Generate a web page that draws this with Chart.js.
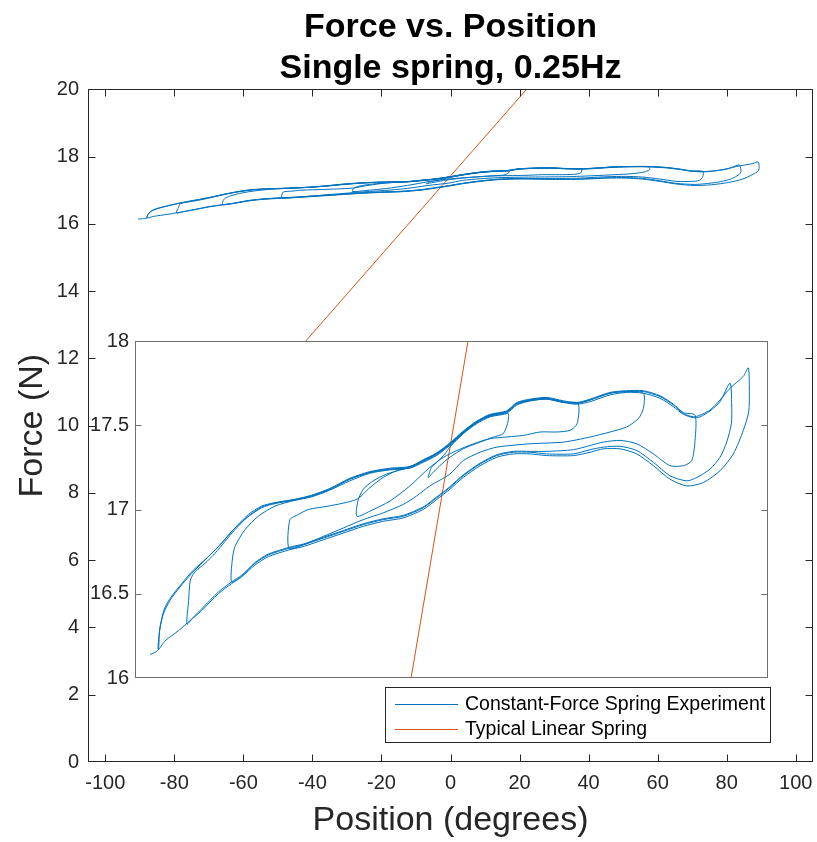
<!DOCTYPE html>
<html lang="en">

<head>
    <meta charset="UTF-8">
    <meta name="viewport" content="width=device-width, initial-scale=1.0">
    <script src="https://cdn.jsdelivr.net/npm/chart.js@4.4.1/dist/chart.umd.min.js"></script>
    <title>Force vs. Position</title>
    <style>
        body { margin: 0; background: #fff; }
        #wrap { position: relative; width: 817px; height: 842px; }
        #mainChart { position: absolute; left: 0; top: 0; }
        #insetChart { position: absolute; left: 80px; top: 325px; }
    </style>
</head>

<body>
    <div id="wrap">
        <canvas id="mainChart" width="817" height="842"></canvas>
        <canvas id="insetChart" width="700" height="370"></canvas>
    </div>
</body>

<script type='text/javascript'>

    // tick labels
    const xTickValues = [-100, -80, -60, -40, -20, 0, 20, 40, 60, 80, 100];
    const yTickValues = [0, 2, 4, 6, 8, 10, 12, 14, 16, 18, 20];
    const insetTickValues = [16, 16.5, 17, 17.5, 18];

    // measured force (N) vs position (deg), one array per half cycle
    const upSweep1 = [[-90.5, 16.14], [-89.2, 16.15], [-88.0, 16.17], [-87.6, 16.29], [-86.2, 16.41], [-84.2, 16.48], [-81.0, 16.56], [-77.5, 16.64], [-73.0, 16.72], [-69.0, 16.80], [-65.0, 16.89], [-61.0, 16.97], [-57.0, 17.02], [-53.0, 17.04], [-47.0, 17.06], [-42.0, 17.08], [-36.5, 17.12], [-30.5, 17.18], [-24.5, 17.22], [-18.5, 17.24], [-12.5, 17.25], [-8.5, 17.29], [-4.5, 17.33], [-0.5, 17.39], [3.5, 17.46], [7.6, 17.52], [11.6, 17.56], [16.5, 17.58], [19.6, 17.63], [23.6, 17.65], [28.6, 17.66], [33.6, 17.64], [37.6, 17.63], [41.6, 17.65], [47.6, 17.69], [52.6, 17.70], [57.6, 17.70], [62.6, 17.67], [66.6, 17.62], [69.6, 17.57], [72.6, 17.55], [74.6, 17.56], [77.6, 17.59], [80.6, 17.65], [83.6, 17.72], [87.6, 17.79], [89.1, 17.84]];
    const downSweep1 = [[89.1, 17.84], [89.4, 17.70], [89.2, 17.58], [87.6, 17.47], [84.6, 17.33], [80.6, 17.23], [75.6, 17.16], [70.6, 17.14], [65.6, 17.18], [60.6, 17.26], [55.6, 17.33], [50.6, 17.36], [45.6, 17.36], [41.6, 17.34], [36.6, 17.32], [28.6, 17.32], [23.6, 17.33], [18.6, 17.33], [13.6, 17.31], [8.6, 17.26], [3.5, 17.19], [-0.5, 17.12], [-4.4, 17.06], [-8.5, 17.00], [-14.5, 16.95], [-20.5, 16.93], [-26.5, 16.90], [-32.5, 16.86], [-38.5, 16.82], [-44.5, 16.78], [-48.8, 16.76], [-55.0, 16.72], [-59.0, 16.67], [-63.0, 16.60], [-66.0, 16.56], [-70.0, 16.50], [-75.0, 16.40], [-78.5, 16.34], [-82.0, 16.28], [-86.0, 16.22], [-88.0, 16.17]];
    const upSweep2 = [[-88.0, 16.17], [-87.6, 16.28], [-86.5, 16.38], [-84.5, 16.46], [-81.5, 16.54], [-78.0, 16.62], [-73.5, 16.71], [-69.5, 16.79], [-65.5, 16.88], [-61.5, 16.95], [-57.0, 17.01], [-53.0, 17.035], [-47.0, 17.055], [-42.0, 17.075], [-36.5, 17.115], [-30.5, 17.17], [-24.5, 17.215], [-18.5, 17.235], [-12.5, 17.245], [-8.5, 17.28], [-4.5, 17.32], [-0.5, 17.38], [3.5, 17.45], [7.6, 17.51], [11.6, 17.55], [16.5, 17.57], [19.6, 17.62], [23.6, 17.645], [28.6, 17.655], [33.6, 17.635], [37.6, 17.625], [41.6, 17.64], [47.6, 17.68], [52.6, 17.695], [57.6, 17.69], [62.6, 17.66], [66.6, 17.61], [69.6, 17.565], [72.6, 17.545], [74.6, 17.55], [77.6, 17.585], [80.6, 17.64], [83.6, 17.75]];
    const downSweep2 = [[83.6, 17.75], [84.1, 17.62], [84.0, 17.51], [82.6, 17.40], [80.6, 17.31], [77.6, 17.24], [73.6, 17.19], [70.6, 17.17], [65.6, 17.20], [60.6, 17.28], [55.6, 17.35], [50.6, 17.375], [45.6, 17.37], [41.6, 17.355], [36.6, 17.33], [28.6, 17.33], [23.6, 17.34], [18.6, 17.34], [13.6, 17.32], [8.6, 17.27], [3.5, 17.20], [-0.5, 17.13], [-4.4, 17.07], [-8.5, 17.01], [-14.5, 16.96], [-20.5, 16.94], [-26.5, 16.91], [-32.5, 16.87], [-38.5, 16.83], [-44.5, 16.79], [-48.8, 16.77], [-55.0, 16.73], [-59.0, 16.68], [-63.0, 16.61], [-66.0, 16.57], [-70.0, 16.51], [-75.0, 16.41], [-77.5, 16.36], [-79.4, 16.32]];
    const upSweep3 = [[-79.4, 16.32], [-78.9, 16.46], [-78.4, 16.58], [-77.0, 16.63], [-74.0, 16.68], [-71.0, 16.74], [-68.0, 16.81], [-65.0, 16.88], [-61.0, 16.96], [-57.0, 17.015], [-53.0, 17.04], [-47.0, 17.06], [-42.0, 17.085], [-36.5, 17.125], [-30.5, 17.185], [-24.5, 17.225], [-18.5, 17.245], [-12.5, 17.255], [-8.5, 17.295], [-4.5, 17.335], [-0.5, 17.395], [3.5, 17.465], [7.6, 17.525], [11.6, 17.565], [16.5, 17.585], [19.6, 17.635], [23.6, 17.655], [28.6, 17.665], [33.6, 17.645], [37.6, 17.635], [41.6, 17.655], [47.6, 17.695], [52.6, 17.705], [57.6, 17.705], [62.6, 17.675], [66.6, 17.625], [69.6, 17.575], [73.1, 17.56]];
    const downSweep3 = [[73.1, 17.56], [73.1, 17.41], [72.1, 17.29], [69.6, 17.26], [65.6, 17.26], [60.6, 17.33], [55.6, 17.39], [50.6, 17.41], [45.6, 17.40], [41.6, 17.38], [36.6, 17.355], [28.6, 17.345], [23.6, 17.345], [18.6, 17.345], [13.6, 17.325], [8.6, 17.275], [3.5, 17.205], [-0.5, 17.135], [-4.4, 17.075], [-8.5, 17.015], [-14.5, 16.965], [-20.5, 16.945], [-26.5, 16.915], [-32.5, 16.875], [-38.5, 16.835], [-44.5, 16.795], [-48.8, 16.775], [-55.0, 16.735], [-59.0, 16.685], [-63.0, 16.605], [-66.0, 16.57]];
    const upSweep4 = [[-66.0, 16.57], [-65.8, 16.70], [-65.0, 16.78], [-62.0, 16.88], [-58.0, 16.96], [-53.0, 17.02], [-47.0, 17.055], [-42.0, 17.08], [-36.5, 17.12], [-30.5, 17.18], [-24.5, 17.22], [-18.5, 17.24], [-12.5, 17.25], [-8.5, 17.29], [-4.5, 17.33], [-0.5, 17.39], [3.5, 17.46], [7.6, 17.52], [11.6, 17.56], [16.5, 17.58], [19.6, 17.63], [23.6, 17.65], [28.6, 17.66], [33.6, 17.64], [37.6, 17.63], [41.6, 17.65], [47.6, 17.69], [52.6, 17.70], [57.6, 17.69]];
    const downSweep4 = [[57.6, 17.69], [57.6, 17.60], [56.1, 17.54], [52.6, 17.49], [47.6, 17.46], [41.6, 17.43], [33.6, 17.40], [23.6, 17.39], [13.6, 17.37], [8.6, 17.34], [3.5, 17.29], [-0.5, 17.21], [-6.5, 17.14], [-10.5, 17.08], [-14.5, 17.03], [-20.5, 16.98], [-26.5, 16.94], [-32.5, 16.89], [-38.5, 16.84], [-44.5, 16.79], [-48.8, 16.77]];
    const upSweep5 = [[-48.8, 16.77], [-48.5, 16.94], [-46.0, 16.97], [-43.0, 17.00], [-37.0, 17.02], [-28.5, 17.06], [-24.5, 17.13], [-20.5, 17.19], [-16.5, 17.23], [-12.5, 17.25], [-8.5, 17.285], [-4.5, 17.325], [-0.5, 17.385], [3.5, 17.455], [7.6, 17.515], [11.6, 17.555], [16.5, 17.575], [19.6, 17.625], [23.6, 17.645], [28.6, 17.655], [33.6, 17.635], [38.0, 17.63]];
    const downSweep5 = [[38.0, 17.63], [37.7, 17.51], [35.6, 17.47], [31.6, 17.46], [26.6, 17.46], [21.6, 17.44], [11.6, 17.42], [6.6, 17.39], [1.6, 17.35], [-2.4, 17.31], [-6.5, 17.25], [-12.5, 17.14], [-18.5, 17.05], [-24.5, 16.99], [-28.4, 16.96]];
    const upSweep6 = [[-28.4, 16.96], [-28.1, 17.05], [-26.5, 17.12], [-23.5, 17.17], [-19.5, 17.21], [-14.5, 17.24], [-10.5, 17.27], [-6.5, 17.31], [-2.5, 17.36], [1.5, 17.42], [5.5, 17.49], [9.6, 17.54], [13.6, 17.565], [17.0, 17.57]];
    const downSweep6 = [[17.0, 17.57], [16.8, 17.51], [15.5, 17.45], [12.6, 17.43], [8.6, 17.40], [3.5, 17.36], [-0.5, 17.31], [-3.5, 17.26], [-6.0, 17.21], [-7.0, 17.19]];
    const upSweep7 = [[-7.0, 17.19], [-6.0, 17.25], [-4.4, 17.28], [-2.0, 17.33], [-0.5, 17.37], [3.5, 17.45], [7.6, 17.52], [11.6, 17.555]];

    // typical linear spring
    const springPosition = [-90, 90];
    const springForce = [6.89, 27.95];

    const sweeps = [upSweep1, downSweep1, upSweep2, downSweep2, upSweep3, downSweep3,
        upSweep4, downSweep4, upSweep5, downSweep5, upSweep6, downSweep6, upSweep7];

    const springPoints = springPosition.map((x, i) => ({ x: x, y: springForce[i] }));
    const experimentPoints = [];
    sweeps.forEach((sweep, k) => {
        sweep.forEach((p, i) => {
            if (k > 0 && i === 0) return; // shared turning point
            experimentPoints.push({ x: p[0], y: p[1] });
        });
    });

    const FONT = "'Liberation Sans', Arial, Helvetica, sans-serif";
    const AXIS_COLOR = '#262626';
    const BLUE = '#0072BD';
    const ORANGE = '#D95319';

    // MATLAB style box with inward ticks
    const axesBox = {
        id: 'axesBox',
        beforeDatasetsDraw(chart, args, opts) {
            if (!opts.background) return;
            const { ctx, chartArea: a } = chart;
            ctx.save();
            ctx.fillStyle = opts.background;
            ctx.fillRect(a.left, a.top, a.right - a.left, a.bottom - a.top);
            ctx.restore();
        },
        afterDatasetsDraw(chart, args, opts) {
            const { ctx, chartArea: a, scales } = chart;
            const l = Math.round(a.left) + 0.5, r = Math.round(a.right) - 0.5;
            const t = Math.round(a.top) + 0.5, b = Math.round(a.bottom) - 0.5;
            const len = opts.tickLength;
            ctx.save();
            ctx.strokeStyle = opts.color;
            ctx.lineWidth = 1;
            ctx.strokeRect(l, t, r - l, b - t);
            ctx.beginPath();
            if (opts.xTicks) {
                scales.x.ticks.forEach(tk => {
                    const px = Math.round(scales.x.getPixelForValue(tk.value)) + 0.5;
                    ctx.moveTo(px, b); ctx.lineTo(px, b - len);
                    ctx.moveTo(px, t); ctx.lineTo(px, t + len);
                });
            }
            scales.y.ticks.forEach(tk => {
                const py = Math.round(scales.y.getPixelForValue(tk.value)) + 0.5;
                if (py < t + 1 || py > b - 1) return;
                ctx.moveTo(l, py); ctx.lineTo(l + len, py);
                ctx.moveTo(r, py); ctx.lineTo(r - len, py);
            });
            ctx.stroke();
            ctx.restore();
        }
    };

    // legend box in the lower right of the main axes
    const boxLegend = {
        id: 'boxLegend',
        afterDraw(chart, args, opts) {
            const { ctx, chartArea: a } = chart;
            const right = a.right - opts.marginRight;
            const bottom = a.bottom - opts.marginBottom;
            const left = right - opts.width, top = bottom - opts.height;
            ctx.save();
            ctx.fillStyle = '#fff';
            ctx.fillRect(left, top, opts.width, opts.height);
            ctx.strokeStyle = AXIS_COLOR;
            ctx.lineWidth = 1;
            ctx.strokeRect(Math.round(left) + 0.5, Math.round(top) + 0.5, opts.width, opts.height);
            ctx.font = opts.fontSize + 'px ' + FONT;
            ctx.textBaseline = 'middle';
            ctx.fillStyle = '#000';
            chart.data.datasets.forEach((ds, i) => {
                const y = Math.round(top + 17 + i * 25) + 0.5;
                ctx.strokeStyle = ds.borderColor;
                ctx.beginPath();
                ctx.moveTo(left + 10, y); ctx.lineTo(left + 73, y);
                ctx.stroke();
                ctx.fillText(ds.label, left + 80, y);
            });
            ctx.restore();
        }
    };

    function makeDatasets() {
        return [{
            label: 'Constant-Force Spring Experiment',
            data: experimentPoints,
            showLine: true,
            borderColor: BLUE,
            borderWidth: 1,
            pointRadius: 0,
            tension: 0.25
        }, {
            label: 'Typical Linear Spring',
            data: springPoints,
            showLine: true,
            borderColor: ORANGE,
            borderWidth: 1,
            pointRadius: 0
        }];
    }

    const tickFont = { family: FONT, size: 20 };

    new Chart(document.getElementById('mainChart'), {
        type: 'scatter',
        data: { datasets: makeDatasets() },
        options: {
            responsive: false,
            animation: false,
            events: [],
            layout: { padding: { left: 0, right: 4, top: 0, bottom: 0 } },
            plugins: {
                legend: { display: false },
                tooltip: { enabled: false },
                title: {
                    display: true,
                    fullSize: false,
                    text: ['Force vs. Position', 'Single spring, 0.25Hz'],
                    color: '#000',
                    font: { family: FONT, size: 34, weight: 'bold', lineHeight: 1.18 },
                    padding: { top: 8, bottom: 1 }
                },
                axesBox: { color: AXIS_COLOR, tickLength: 7, xTicks: true },
                boxLegend: { width: 385, height: 55, marginRight: 43, marginBottom: 20, fontSize: 19.5 }
            },
            scales: {
                x: {
                    type: 'linear', min: -105, max: 105,
                    grid: { display: false, drawTicks: false },
                    border: { display: false },
                    ticks: { font: tickFont, color: AXIS_COLOR, padding: 9, maxRotation: 0, autoSkip: false },
                    afterBuildTicks: s => { s.ticks = xTickValues.map(v => ({ value: v })); },
                    afterFit: s => { s.height = 80; s.paddingLeft = 0; s.paddingRight = 0; },
                    title: { display: true, text: 'Position (degrees)', color: AXIS_COLOR, font: { family: FONT, size: 34 }, padding: { top: 0, bottom: 1 } }
                },
                y: {
                    type: 'linear', min: 0, max: 20,
                    grid: { display: false, drawTicks: false },
                    border: { display: false },
                    ticks: { font: tickFont, color: AXIS_COLOR, padding: 9, autoSkip: false },
                    afterBuildTicks: s => { s.ticks = yTickValues.map(v => ({ value: v })); },
                    afterFit: s => { s.width = 88; s.paddingTop = 0; s.paddingBottom = 0; },
                    title: { display: true, text: 'Force (N)', color: AXIS_COLOR, font: { family: FONT, size: 34 }, padding: { top: 12, bottom: 0 } }
                }
            }
        },
        plugins: [axesBox, boxLegend]
    });

    new Chart(document.getElementById('insetChart'), {
        type: 'scatter',
        data: { datasets: makeDatasets() },
        options: {
            responsive: false,
            animation: false,
            events: [],
            layout: { padding: { left: 0, right: 12, top: 16, bottom: 17 } },
            plugins: {
                legend: { display: false },
                tooltip: { enabled: false },
                title: { display: false },
                axesBox: { color: '#6e6e6e', tickLength: 6, xTicks: false, background: '#fff' }
            },
            scales: {
                x: { type: 'linear', min: -95, max: 95, display: false },
                y: {
                    type: 'linear', min: 16, max: 18,
                    grid: { display: false, drawTicks: false },
                    border: { display: false },
                    ticks: { font: tickFont, color: AXIS_COLOR, padding: 6, autoSkip: false, callback: v => String(v) },
                    afterBuildTicks: s => { s.ticks = insetTickValues.map(v => ({ value: v })); },
                    afterFit: s => { s.width = 55; s.paddingTop = 0; s.paddingBottom = 0; }
                }
            }
        },
        plugins: [axesBox]
    });

</script>

</html>
